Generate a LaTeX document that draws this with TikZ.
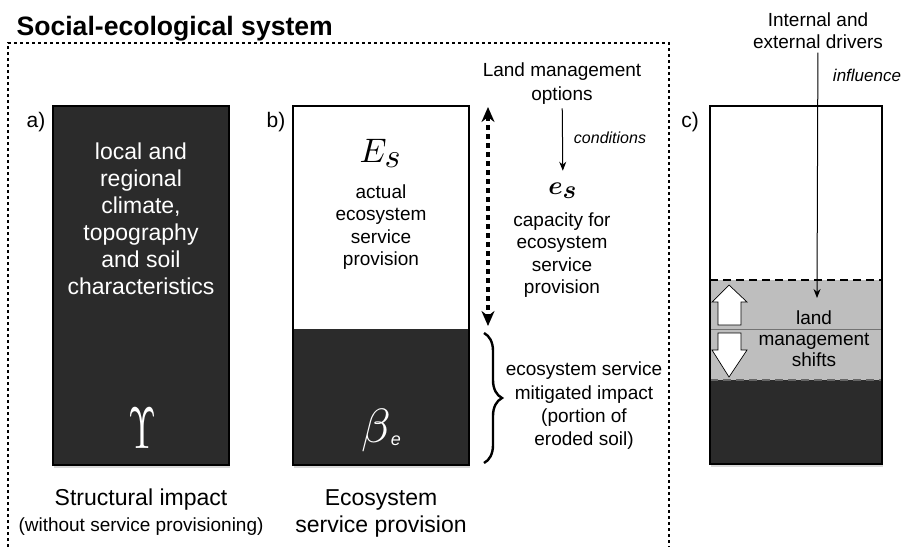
\documentclass[tikz,border=0pt]{standalone}
\usepackage{fontspec}
\setmainfont{Liberation Sans}
\usepackage{amsmath}
\usepackage{bm}
\usepackage{graphicx}
\usetikzlibrary{arrows.meta,decorations.pathreplacing,shadows}
\definecolor{soil}{HTML}{2B2B2B}
\definecolor{band}{HTML}{BEBEBE}
\newcommand{\sizeat}[2]{\fontsize{#1}{#2}\selectfont}
\begin{document}
\begin{tikzpicture}[x=1pt,y=-1pt,
  panel/.style={line width=1.6pt, drop shadow={shadow xshift=0.5pt, shadow yshift=-3pt, opacity=0.3}},
  body/.style={align=center, font=\sizeat{19}{22.5}},
  big/.style={align=center, font=\sizeat{23}{27}},
  tag/.style={font=\sizeat{21}{21}},
  conn/.style={-{Stealth[length=9pt,width=7pt]}, line width=1pt}]
\useasboundingbox (0,0) rectangle (906,547);

\node[anchor=base west, font=\bfseries\sizeat{26.6}{30}] (title) at (13,35) {Social-ecological system};
\draw[line width=1.8pt, dash pattern=on 3pt off 3pt] (8,547) -- (8,43) -- (669,43) -- (669,547);

\draw[panel, fill=soil] (53,106) rectangle (229,465);
\node[tag] (la) at (36,122) {a)};
\node[big, text=white] (clim) at (141,219) {local and\\regional\\climate,\\topography\\and soil\\characteristics};
\node[text=white] (ups) at (142,428) {\scalebox{3.6}[5.86]{$\Upsilon$}};
\node[big] (struct) at (141,500) {Structural impact};
\node[body] (without) at (141,527) {(without service provisioning)};

\draw[panel, fill=white] (293,106) rectangle (469,465);
\fill[soil] (293,329) rectangle (469,465);
\draw[line width=1.6pt] (293,106) rectangle (469,465);
\node[tag] (lb) at (276,122) {b)};
\node (Es) at (381,153) {\scalebox{3.4}{$E_{\textstyle s}$}};
\node[body] (actual) at (381,227) {actual\\ecosystem\\service\\provision};
\node[text=white] (beta) at (381,430) {\scalebox{4.8}{$\beta$}\raisebox{-3pt}{\sizeat{18}{18}\itshape e}};
\node[big] (esp) at (381,513) {Ecosystem\\service provision};

\coordinate (up) at (488,107);
\coordinate (down) at (488,326);
\draw[line width=3.2pt, dash pattern=on 5pt off 4pt, {Stealth[length=15pt,width=13pt]}-{Stealth[length=15pt,width=13pt]}] (up) -- (down);
\draw[line width=2.4pt, decorate, decoration={brace, amplitude=18pt}] (484,333) -- (484,463);
\node[body, font=\sizeat{19}{23.3}] (mit) at (584,406) {ecosystem service\\mitigated impact\\(portion of\\eroded soil)};

\node[body, font=\sizeat{19}{24}] (lmo) at (562,84) {Land management\\options};
\node (es) at (563,191) {\scalebox{2.6}{$\bm{e_{\textstyle s}}$}};
\draw[conn, shorten >=9pt] (lmo) -- (es);
\node[font=\itshape\sizeat{16}{16}] (cond) at (610,138) {conditions};
\node[body] (cap) at (562,255) {capacity for\\ecosystem\\service\\provision};

\draw[panel, fill=white] (710,106) rectangle (882,464);
\fill[band] (710,280) rectangle (882,380);
\fill[soil] (710,380) rectangle (882,464);
\draw[black!55, line width=0.8pt] (710,329) -- (882,329);
\draw[line width=1.6pt, dash pattern=on 8pt off 5pt] (710,280) -- (882,280);
\draw[black!60, line width=1.6pt, dash pattern=on 8pt off 5pt] (710,380) -- (882,380);
\draw[line width=1.6pt] (710,106) rectangle (882,464);
\node[tag] (lc) at (690,122) {c)};
\draw[fill=white, line width=0.7pt] (729,285) -- (747,302) -- (741,302) -- (741,325) -- (718,325) -- (718,302) -- (712,302) -- cycle;
\draw[fill=white, line width=0.7pt] (729,377) -- (747,350) -- (741,350) -- (741,333) -- (718,333) -- (718,350) -- (712,350) -- cycle;
\node[body, font=\sizeat{19}{21}] (shift) at (814,339) {land\\management\\shifts};

\node[body, font=\sizeat{19}{22}] (drv) at (818,31) {Internal and\\external drivers};
\node[font=\itshape\sizeat{17}{17}] (infl) at (867,75) {influence};
\coordinate (hit) at (817,298);
\draw[conn] (drv) -- (hit);
\end{tikzpicture}
\end{document}
